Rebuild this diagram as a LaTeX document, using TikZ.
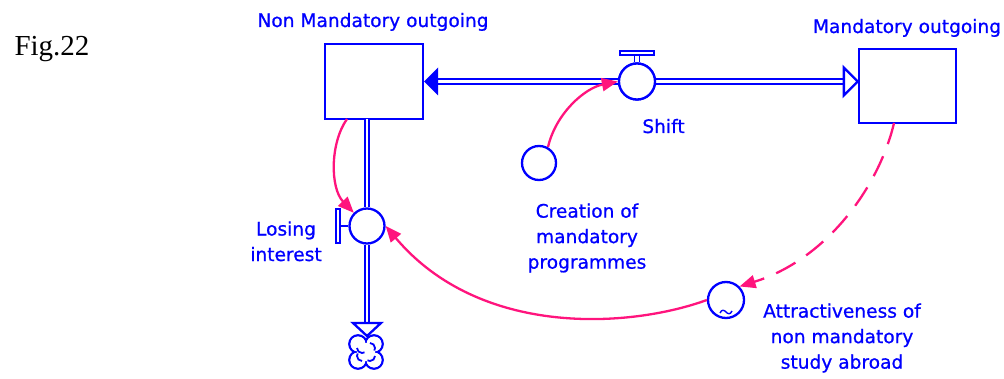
\documentclass[tikz,border=0pt]{standalone}
\usepackage{fontspec}
\setmainfont[FakeBold=0.8]{DejaVu Sans}
\newfontfamily\figfont{Liberation Serif}
\usetikzlibrary{arrows.meta}
\definecolor{vblue}{RGB}{0,0,255}
\definecolor{vpink}{RGB}{255,20,125}
\tikzset{
  x=1pt, y=1pt,
  lbl/.style={text=vblue, inner sep=0pt, font=\fontsize{18.6}{25.5}\selectfont, align=center},
  stockbox/.style={draw=vblue, line width=2.3pt, fill=white, inner sep=0pt},
  valvec/.style={circle, draw=vblue, line width=2.3pt, fill=white, inner sep=0pt, minimum size=#1},
  pipe/.style={draw=vblue, line width=1.9pt, double=white, double distance=2.6pt},
  link/.style={draw=vpink, line width=2.3pt, -{Triangle[length=16pt,width=13pt]}},
  dlink/.style={link, dash pattern=on 22pt off 13pt},
  blueline/.style={draw=vblue, line width=2.3pt}
}
\begin{document}
\begin{tikzpicture}
\useasboundingbox (0,0) rectangle (1004,378);
% title
\node[font=\figfont\fontsize{29}{30}\selectfont, inner sep=0pt] (fig) at (52,329) {Fig.22};
% stocks
\node[stockbox, minimum width=98pt, minimum height=75pt] (nm) at (374,296.5) {};
\node[stockbox, minimum width=97pt, minimum height=74pt] (m) at (907.5,292) {};
\node[lbl, anchor=base] (nmlab) at (373,351) {Non Mandatory outgoing};
\node[lbl, anchor=base] (mlab) at (907,345) {Mandatory outgoing};
% shift flow
\node[valvec=36pt] (shift) at (637,296.5) {};
\coordinate (nmE) at (nm.east |- shift.center);
\coordinate (mW) at (m.west |- shift.center);
\draw[pipe] ([xshift=10pt]nmE) -- (shift.west);
\draw[pipe] (shift.east) -- ([xshift=-10pt]mW);
\fill[vblue] (nmE) -- ++(14,14) -- ++(0,-28) -- cycle;
\draw[blueline, fill=white, line join=miter] (mW) -- ++(-14,14) -- ++(0,-28) -- cycle;
\node[valvec=36pt] (shift) at (637,296.5) {};
\draw[blueline, line width=1.6pt] (shift.north) ++(-2.5,0) -- ++(0,9) (shift.north) ++(2.5,0) -- ++(0,9);
\draw[blueline, line width=1.7pt, fill=white] (620,323) rectangle (654,327);
\node[lbl, anchor=base] (shiftlab) at (663.5,245) {Shift};
% losing interest flow
\node[valvec=35pt] (lose) at (367,152) {};
\coordinate (nmS) at (367,259);
\coordinate (sink) at (367,55);
\draw[pipe] (nmS) -- (lose.north);
\draw[pipe] (lose.south) -- (sink);
\draw[blueline, fill=white, line join=miter] (353,55) -- (381,55) -- (367,42) -- cycle;
% cloud
\begin{scope}[shift={(366,26)}]
  \foreach \p in {(-8,8),(8,8),(-8,-8),(8,-8)} \draw[blueline] \p circle (8.7);
  \foreach \p in {(-8,8),(8,8),(-8,-8),(8,-8)} \fill[white] \p circle (7.5);
  \fill[white] (0,0) circle (9);
  \draw[blueline, line width=1.8pt] (-9,4) arc (180:300:5);
  \draw[blueline, line width=1.8pt] (4,9) arc (90:-30:5);
  \draw[blueline, line width=1.8pt] (9,-4) arc (0:-120:5);
  \draw[blueline, line width=1.8pt] (-4,-9) arc (-90:-210:5);
\end{scope}
% handle
\draw[blueline, line width=1.7pt] (lose.west) -- ++(-8,0);
\draw[blueline, line width=1.7pt, fill=white] (336,135) rectangle (340,169);
\node[lbl, anchor=base] (loselab) at (286,117) {Losing\\interest};
% auxiliaries
\node[valvec=34pt] (creat) at (539,215) {};
\node[lbl] (creatlab) at (587,140) {Creation of\\mandatory\\programmes};
\node[valvec=36pt] (attr) at (726,78) {};
\draw[blueline, line width=1.4pt] (720,65) .. controls (722,69) and (724,68) .. (726,66) .. controls (728,64) and (730,63) .. (732,67);
\node[lbl] (attrlab) at (842,40) {Attractiveness of\\non mandatory\\study abroad};
% links
\draw[link] (548,231) .. controls (556,265) and (585,290) .. (shift.west);
\draw[link] (347,259) .. controls (330,235) and (330,190) .. (lose.north west);
\draw[link] (attr.west) .. controls (630,50) and (480,40) .. (lose.east);
\draw[dlink] (894,255) .. controls (880,195) and (830,120) .. (attr.north east);
\end{tikzpicture}
\end{document}
